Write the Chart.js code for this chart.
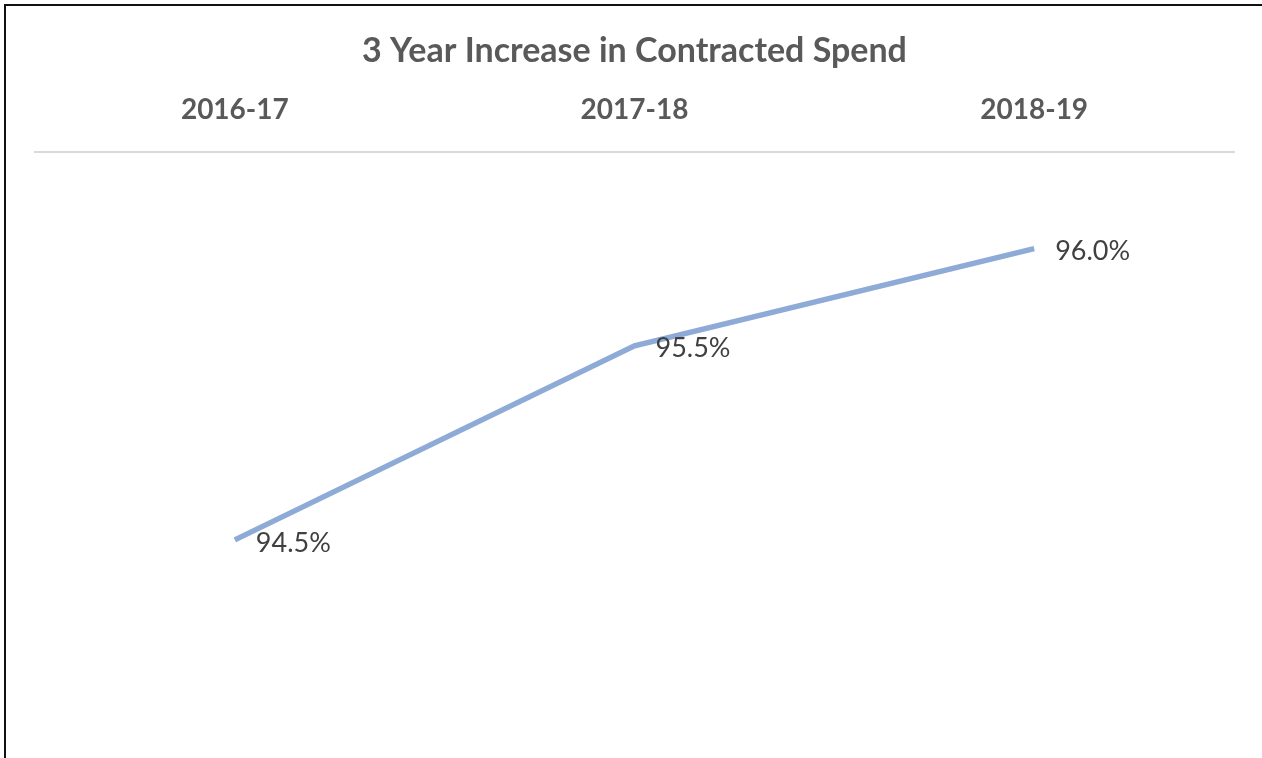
<!DOCTYPE html>
<html>
<head>
<meta charset="utf-8">
<script src="https://cdn.jsdelivr.net/npm/chart.js@4"></script>
<style>
  html, body { margin: 0; padding: 0; background: #fff; }
  .wrap { position: relative; width: 1262px; height: 758px; overflow: hidden; }
  .frame { position: absolute; left: 4px; top: 4px; right: -10px; bottom: -10px; border-left: 2px solid #111; border-top: 2px solid #111; pointer-events: none; }
  canvas { position: absolute; left: 0; top: 0; }
</style>
</head>
<body>
<div class="wrap">
  <canvas id="myChart" width="1262" height="758"></canvas>
  <div class="frame"></div>
</div>
<script>
const years = ['2016-17', '2017-18', '2018-19'];
const spend = [94.5, 95.5, 96.0];
const spendLabels = ['94.5%', '95.5%', '96.0%'];

const fontName = 'Lato, "Open Sans", sans-serif';

// value labels to the right of each point
const pointLabels = {
  id: 'pointLabels',
  afterDatasetsDraw(chart) {
    const ctx = chart.ctx;
    const meta = chart.getDatasetMeta(0);
    ctx.save();
    ctx.font = '27px ' + fontName;
    ctx.fillStyle = '#404040';
    ctx.textAlign = 'left';
    ctx.textBaseline = 'middle';
    meta.data.forEach((pt, i) => {
      ctx.fillText(spendLabels[i], pt.x + 21, pt.y + 3);
    });
    ctx.restore();
  }
};

let ctx = document.getElementById('myChart').getContext('2d');

let myChart = new Chart(ctx, {
  type: 'line',
  data: {
    labels: years,
    datasets: [{
      label: 'Contracted Spend',
      data: spend,
      borderColor: '#8eaad6',
      borderWidth: 5.5,
      pointRadius: 0,
      fill: false,
      tension: 0
    }]
  },
  options: {
    responsive: false,
    animation: false,
    layout: { padding: { left: 35, right: 28, bottom: 24, top: 0 } },
    plugins: {
      legend: { display: false },
      tooltip: { enabled: false },
      title: {
        display: true,
        text: '3 Year Increase in Contracted Spend',
        color: '#595959',
        font: { family: fontName, size: 34, weight: 'bold', lineHeight: 1 },
        padding: { top: 34, bottom: 0 }
      }
    },
    scales: {
      x: {
        position: 'top',
        offset: true,
        grid: { display: false, drawTicks: false },
        border: { display: true, color: '#d9d9d9', width: 2 },
        ticks: {
          color: '#595959',
          padding: 25,
          font: { family: fontName, size: 28, weight: 'bold' }
        }
      },
      y: {
        display: false,
        min: 93.5,
        max: 96.5
      }
    }
  },
  plugins: [pointLabels]
});
</script>
</body>
</html>
